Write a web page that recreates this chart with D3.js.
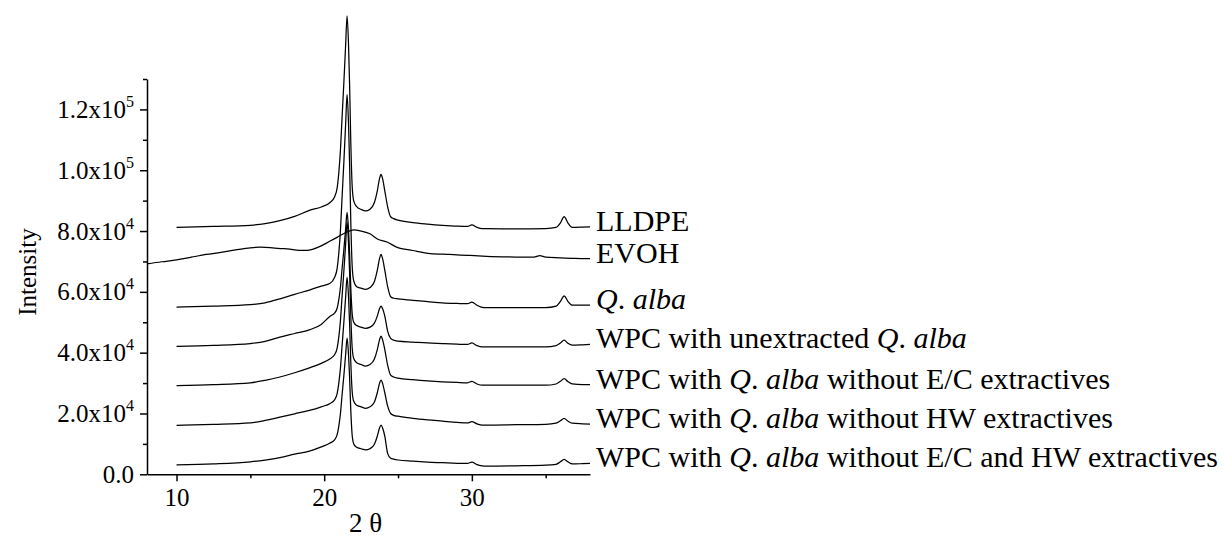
<!DOCTYPE html>
<html>
<head>
<meta charset="utf-8">
<script src="https://cdn.jsdelivr.net/npm/d3@7"></script>
<style>
  html, body { margin: 0; padding: 0; background: #fff; }
  svg { display: block; }
  text { font-family: "Liberation Serif", "Times New Roman", Times, serif; fill: #000; }
</style>
</head>
<body>
<svg id="chart" width="1224" height="537"></svg>
<script>
// Diffraction angle grid (2θ, degrees) shared by the stacked patterns
const twoTheta = [10, 12.5, 15, 16, 17, 18, 19, 19.8, 20.4, 20.7, 20.88, 21.0, 21.1, 21.2, 21.33, 21.45,
  21.55, 21.65, 21.72, 21.8, 21.9, 22.0, 22.2, 22.5, 22.8, 23.1, 23.4, 23.6, 23.75, 23.85, 23.95, 24.1,
  24.3, 24.5, 24.7, 25, 26, 27, 28, 29, 29.7, 30.0, 30.35, 30.7, 31, 33, 35, 35.7, 36.0, 36.25, 36.5,
  36.8, 37.5, 38];

// Intensities (counts), already offset vertically for stacking
const lldpe = [81200, 81500, 81900, 82400, 83400, 84800, 86800, 87900, 89400, 91200, 94300, 99800,
  106600, 116400, 128700, 141000, 150800, 140800, 128200, 109400, 94300, 89900, 88000, 87100, 86600,
  87200, 89400, 93300, 97300, 98600, 97300, 93300, 87900, 84700, 84100, 83600, 82800, 82300, 81900,
  81600, 81500, 82000, 81200, 80800, 80800, 80700, 80800, 81200, 82700, 84700, 82700, 81200, 81300, 81400];

const qAlba = [55000, 55300, 55800, 56400, 57700, 59200, 60600, 61900, 62800, 64700, 67800, 73400,
  80200, 90100, 102500, 115000, 124900, 114800, 102100, 83200, 68000, 63600, 61700, 61200, 60800,
  61400, 63400, 67200, 71000, 72300, 71000, 67200, 61600, 58400, 57900, 57700, 57200, 56800, 56400,
  56200, 56100, 56600, 55600, 54900, 54800, 54800, 54800, 55300, 56900, 58700, 56900, 55600, 55600, 55600];

const wpcUnextracted = [42100, 42400, 43000, 43700, 45100, 46300, 47500, 49300, 52000, 53000, 54700,
  57800, 61500, 67000, 73800, 80600, 86100, 80100, 72700, 61500, 52600, 50000, 48900, 48400, 48000,
  48400, 49700, 52100, 54500, 55300, 54500, 52100, 47000, 44700, 44100, 43800, 43500, 43200, 43000,
  42800, 42700, 43200, 42300, 41900, 41900, 41900, 41900, 42300, 43200, 44100, 43100, 42500, 42600, 42700];

const wpcNoEC = [29200, 29500, 30100, 30900, 32000, 33400, 35000, 36500, 38000, 39300, 41600, 45600,
  50600, 57800, 66700, 75700, 82900, 75500, 66300, 52400, 41300, 38100, 36700, 36100, 35600, 36100,
  37900, 41100, 44300, 45400, 44300, 41100, 35800, 32600, 32000, 31600, 31100, 30700, 30400, 30200,
  30100, 30600, 29700, 29300, 29300, 29300, 29300, 29700, 30600, 31500, 30500, 29700, 29500, 29500];

const wpcNoHW = [16100, 16400, 16900, 17700, 18800, 19900, 21000, 22200, 23300, 24500, 26600, 30400,
  34900, 41600, 49900, 58200, 64800, 58100, 49600, 37000, 26900, 24000, 22700, 22200, 21700, 22200,
  23800, 26900, 30000, 31000, 30000, 26900, 22400, 20000, 19400, 19100, 18400, 17900, 17500, 17100,
  16900, 17300, 16600, 16200, 16200, 16300, 16400, 16800, 17600, 18400, 17500, 16800, 16600, 16500];

const wpcNoECHW = [3100, 3400, 4100, 4700, 5500, 6600, 7600, 9000, 10300, 11300, 13100, 16200, 20000,
  25500, 32400, 39300, 44800, 39100, 31900, 21100, 12500, 10000, 8900, 8400, 8000, 8400, 9900, 12600,
  15300, 16200, 15300, 12600, 6800, 5300, 5000, 4700, 4300, 4000, 3800, 3600, 3600, 4000, 3200, 2800,
  2700, 2800, 3000, 3300, 4100, 4900, 4100, 3400, 3500, 3600];

// EVOH is recorded from 8° and has its own angle grid
const evohTwoTheta = [8, 9, 10, 11, 12, 13, 14, 15, 15.7, 16.5, 17.5, 18.6, 19.2, 19.8, 20.4, 20.9, 21.5,
  22.0, 22.5, 23.1, 23.6, 24.3, 24.9, 26, 27.2, 28.5, 29.7, 31, 32.5, 34.2, 34.6, 35.0, 36, 37, 38];
const evoh = [69200, 69900, 70500, 71400, 72300, 73000, 73800, 74500, 74700, 74500, 74100, 73600, 74000,
  75100, 76700, 78000, 79600, 80400, 80000, 79100, 77400, 76300, 74700, 73600, 72600, 72300, 72000,
  71700, 71500, 71400, 71900, 71400, 71200, 71000, 70900];

// Curve labels; each part is [text, italic]
const seriesLabels = [
  [["LLDPE", false]],
  [["EVOH", false]],
  [["Q", true], [". ", false], ["alba", true]],
  [["WPC with unextracted ", false], ["Q", true], [". ", false], ["alba", true]],
  [["WPC with ", false], ["Q", true], [". ", false], ["alba", true], [" without E/C extractives", false]],
  [["WPC with ", false], ["Q", true], [". ", false], ["alba", true], [" without HW extractives", false]],
  [["WPC with ", false], ["Q", true], [". ", false], ["alba", true], [" without E/C and HW extractives", false]]
];

// Axis ticks
const xMajorTicks = [10, 20, 30];
const xMinorTicks = [15, 25, 35];
const yMajorTicks = [0, 20000, 40000, 60000, 80000, 100000, 120000];
const yMinorTicks = [10000, 30000, 50000, 70000, 90000, 110000, 130000];
const xDomain = [8, 38];
const yDomain = [0, 130000];

const seriesData = [
  { x: twoTheta, y: lldpe },
  { x: evohTwoTheta, y: evoh },
  { x: twoTheta, y: qAlba },
  { x: twoTheta, y: wpcUnextracted },
  { x: twoTheta, y: wpcNoEC },
  { x: twoTheta, y: wpcNoHW },
  { x: twoTheta, y: wpcNoECHW }
];

const svg = d3.select("#chart");
const plot = { left: 147, right: 590, top: 79, bottom: 474.3 };

const x = d3.scaleLinear().domain(xDomain).range([plot.left, plot.right]);
const y = d3.scaleLinear().domain(yDomain).range([plot.bottom, plot.top]);

// Patterns
const line = d3.line()
  .x(d => x(d[0]))
  .y(d => y(d[1]))
  .curve(d3.curveMonotoneX);

const curves = svg.append("g").attr("class", "patterns");
seriesData.forEach(s => {
  const pts = s.x.map((v, k) => [v, s.y[k]]);
  curves.append("path")
    .datum(pts)
    .attr("d", line)
    .attr("fill", "none")
    .attr("stroke", "#000")
    .attr("stroke-width", 1.25)
    .attr("stroke-linejoin", "round");
});

// Labels at the right-hand end of each pattern
const labelG = svg.append("g").attr("class", "labels");
seriesData.forEach((s, i) => {
  const last = s.y[s.y.length - 1];
  const t = labelG.append("text")
    .attr("x", x(xDomain[1]) + 6)
    .attr("y", y(last) + 4)
    .attr("font-size", 30);
  seriesLabels[i].forEach(([txt, it]) => {
    t.append("tspan").attr("font-style", it ? "italic" : "normal").text(txt);
  });
});

// Axes
function styleAxis(g) {
  g.attr("font-family", null).attr("font-size", null);
  g.selectAll("path.domain").attr("stroke", "#000").attr("stroke-width", 1.5);
  g.selectAll(".tick line").attr("stroke", "#000").attr("stroke-width", 1.5);
}

const xAxis = svg.append("g")
  .attr("transform", `translate(0,${plot.bottom})`)
  .call(d3.axisBottom(x).tickValues(xMajorTicks).tickSize(7).tickSizeOuter(0).tickPadding(7)
    .tickFormat(d3.format("d")));
styleAxis(xAxis);
xAxis.selectAll(".tick text").attr("font-size", 25).attr("fill", "#000");

const xMinor = svg.append("g")
  .attr("transform", `translate(0,${plot.bottom})`)
  .call(d3.axisBottom(x).tickValues(xMinorTicks).tickSize(4).tickSizeOuter(0).tickFormat(""));
xMinor.select("path.domain").remove();
styleAxis(xMinor);

const yAxis = svg.append("g")
  .attr("transform", `translate(${plot.left},0)`)
  .call(d3.axisLeft(y).tickValues(yMajorTicks).tickSize(7).tickSizeOuter(0).tickPadding(6));
styleAxis(yAxis);
yAxis.selectAll(".tick text").each(function(d) {
  const t = d3.select(this).text(null).attr("font-size", 25).attr("fill", "#000");
  if (d === 0) {
    t.text("0.0");
  } else {
    const exp = Math.floor(Math.log10(d));
    const mant = (d / Math.pow(10, exp)).toFixed(1);
    t.append("tspan").text(mant + "x10");
    t.append("tspan").attr("dy", -11).attr("font-size", 16).text(exp);
  }
});

const yMinor = svg.append("g")
  .attr("transform", `translate(${plot.left},0)`)
  .call(d3.axisLeft(y).tickValues(yMinorTicks).tickSize(4).tickSizeOuter(0).tickFormat(""));
yMinor.select("path.domain").remove();
styleAxis(yMinor);

// Axis titles
svg.append("text")
  .attr("x", (plot.left + plot.right) / 2 - 3)
  .attr("y", 532)
  .attr("text-anchor", "middle")
  .attr("font-size", 27)
  .text("2 θ");

svg.append("text")
  .attr("transform", `translate(36,272) rotate(-90)`)
  .attr("text-anchor", "middle")
  .attr("font-size", 25)
  .text("Intensity");
</script>
</body>
</html>
